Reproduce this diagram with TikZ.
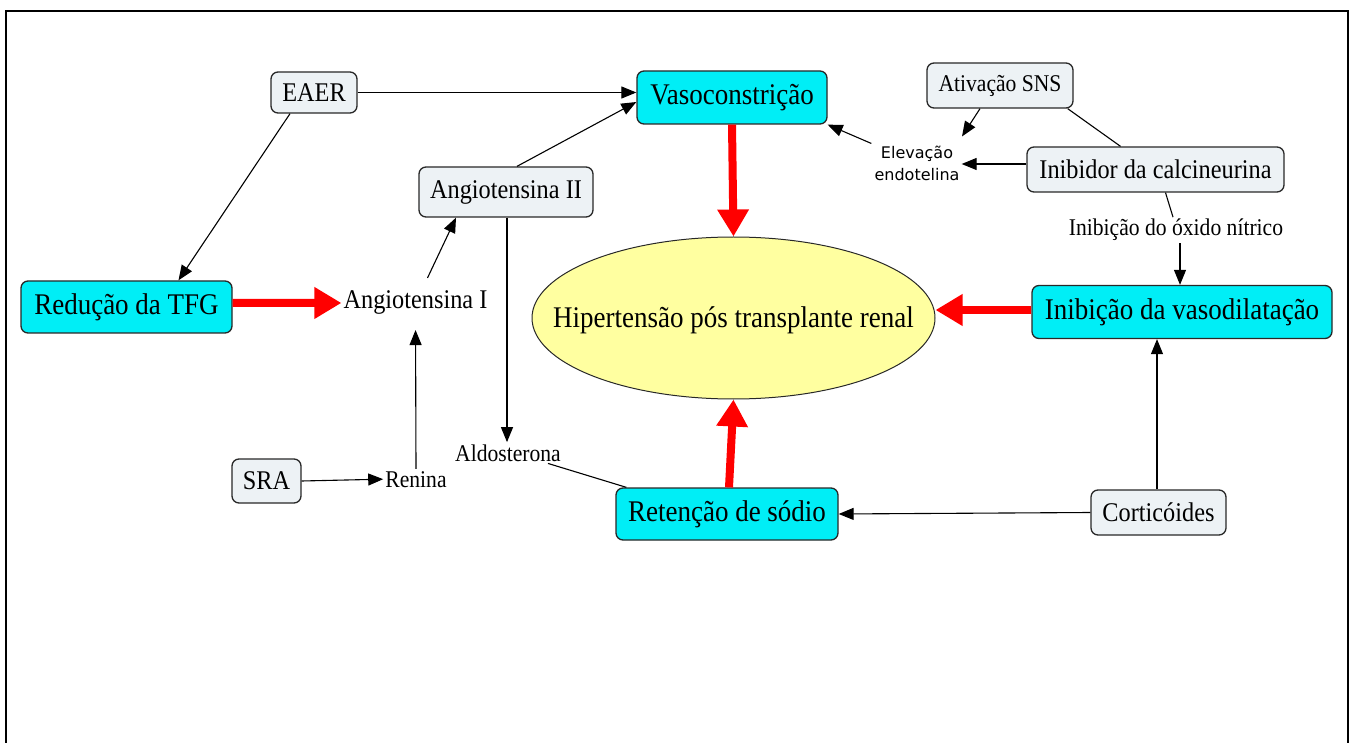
\documentclass[tikz,border=0pt]{standalone}
\usepackage{fontspec}
\setmainfont{Liberation Serif}[FakeStretch=0.9]
\newfontfamily\elevsans{DejaVu Sans}
\usetikzlibrary{arrows.meta,shapes.geometric,calc}
\definecolor{cyanbox}{RGB}{0,238,246}
\definecolor{lightbox}{RGB}{237,242,245}
\definecolor{ellfill}{RGB}{255,255,160}
\definecolor{boxline}{RGB}{40,40,40}
\definecolor{redarrow}{RGB}{255,0,0}
\newcommand\szbig{\fontsize{30}{36}\selectfont}
\newcommand\szmid{\fontsize{27}{32}\selectfont}
\newcommand\szsmall{\fontsize{24}{29}\selectfont}
\begin{document}
\begin{tikzpicture}[x=1pt,y=-1pt,
  box/.style={draw=boxline,line width=1.3pt,rounded corners=7pt,inner sep=0pt,align=center},
  mainbox/.style={box,fill=cyanbox,font=\szbig},
  subbox/.style={box,fill=lightbox,font=\szmid},
  lbl/.style={inner sep=2pt,align=center},
  conn/.style={line width=1.1pt,-{Triangle[length=15pt,width=12pt]}},
  plain/.style={line width=1.1pt},
  bigarrow/.style={draw=redarrow,line width=8pt,-{Triangle[length=27pt,width=30pt]}}
]
\useasboundingbox (0,0) rectangle (1355,743);
\clip (0,0) rectangle (1355,743);
\draw[line width=2.2pt] (6,800) -- (6,11) -- (1348,11) -- (1348,800);

% nodes
\node[subbox,minimum width=86pt,minimum height=41pt] (eaer) at (314,92.5) {EAER};
\node[mainbox,minimum width=190pt,minimum height=53pt] (vaso) at (732,97.5) {Vasoconstrição};
\node[subbox,font=\szsmall,minimum width=146pt,minimum height=45pt] (ativ) at (1000,85.5) {Ativação SNS};
\node[lbl,font=\elevsans\fontsize{16}{22}\selectfont] (elev) at (917,163) {Elevação\\endotelina};
\node[subbox,minimum width=257pt,minimum height=45pt] (inib) at (1155.5,169.5) {Inibidor da calcineurina};
\node[subbox,minimum width=174pt,minimum height=50pt] (ang2) at (506,192) {Angiotensina II};
\node[lbl,font=\szsmall,anchor=base] (ox) at (1176,236) {Inibição do óxido nítrico};
\node[mainbox,minimum width=211pt,minimum height=52pt] (tfg) at (126.5,307) {Redução da TFG};
\node[lbl,font=\szmid,anchor=base] (angI) at (415.5,309) {Angiotensina I};
\node[ellipse,draw=boxline,line width=1pt,fill=ellfill,minimum width=403pt,minimum height=162pt,inner sep=0pt] (hip) at (733.5,318) {};
\node[font=\szbig,anchor=base,inner sep=0pt] (hiptext) at (733.5,327) {Hipertensão pós transplante renal};
\node[mainbox,minimum width=300pt,minimum height=53pt] (inv) at (1182,312) {Inibição da vasodilatação};
\node[subbox,minimum width=69pt,minimum height=44pt] (sra) at (266.5,481) {SRA};
\node[lbl,font=\szsmall,anchor=base] (ren) at (416,487) {Renina};
\node[lbl,font=\szsmall,anchor=base] (aldo) at (508,461) {Aldosterona};
\node[mainbox,minimum width=222pt,minimum height=52pt] (ret) at (727,514) {Retenção de sódio};
\node[subbox,minimum width=135pt,minimum height=45pt] (cort) at (1158.5,512.5) {Corticóides};

% connectors
\draw[conn] (eaer.east) -- (eaer.east -| vaso.west);
\draw[conn] ([xshift=-24pt]eaer.south) -- ([xshift=52pt]tfg.north);
\draw[conn] ([xshift=11pt]ang2.north) -- ([yshift=-4.5pt]vaso.west);
\draw[conn] ([xshift=12pt,yshift=11pt]angI.north) -- ([xshift=-50pt]ang2.south);
\draw[conn,shorten >=13pt] (ren.north) -- (angI.south);
\draw[conn] (sra.east) -- (ren.west);
\draw[conn] ([xshift=1pt]ang2.south) -- ([xshift=1pt]ang2.south |- aldo.north);
\draw[plain] ([xshift=-15pt]aldo.south east) -- ([xshift=11pt]ret.north west);
\draw[bigarrow] ([yshift=4pt]tfg.east) -- (angI.west);
\draw[bigarrow] (vaso.south) -- (hip.north);
\draw[bigarrow] ([xshift=2pt]ret.north) -- (hip.south);
\draw[bigarrow] ([yshift=2pt]inv.west) -- ([yshift=2pt]inv.west -| hip.east);
\draw[conn] (cort.west) -- (ret.east);
\draw[conn] ([xshift=-1.5pt]cort.north) -- ([xshift=-1.5pt]cort.north |- inv.south);
\draw[conn] ([xshift=-1pt]elev.north west) -- (vaso.south east);
\draw[conn] ([xshift=-20pt]ativ.south) -- ([xshift=45pt,yshift=7pt]elev.north);
\draw[conn] ([yshift=5.5pt]inib.west) -- ([yshift=5.5pt]inib.west -| elev.east);
\draw[plain] ([xshift=-6pt]ativ.south east) -- ([xshift=-35pt]inib.north);
\draw[plain] ([xshift=10pt]inib.south) -- ([xshift=-3pt]ox.north);
\draw[conn] ([xshift=4pt]ox.south) -- ([xshift=4pt]ox.south |- inv.north);
\end{tikzpicture}
\end{document}
